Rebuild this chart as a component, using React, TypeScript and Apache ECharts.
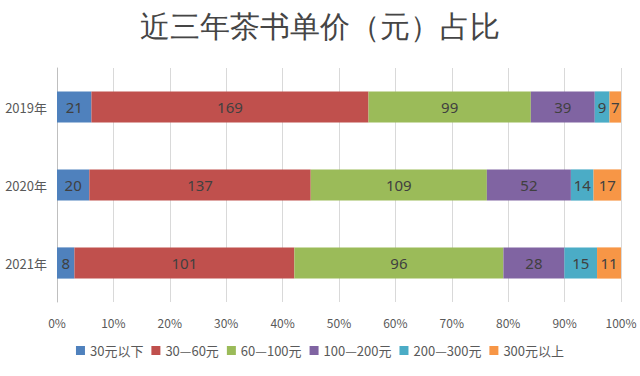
import React, { useEffect, useRef } from "react";
import * as echarts from "echarts";

const years = ["2019年", "2020年", "2021年"];
const seriesNames = ["30元以下", "30—60元", "60—100元", "100—200元", "200—300元", "300元以上"];
const below30 = [21, 20, 8];
const from30to60 = [169, 137, 101];
const from60to100 = [99, 109, 96];
const from100to200 = [39, 52, 28];
const from200to300 = [9, 14, 15];
const above300 = [7, 17, 11];
const colors = ["#4F81BD", "#C0504D", "#9BBB59", "#8064A2", "#4BACC6", "#F79646"];
const tickLabels = ["0%", "10%", "20%", "30%", "40%", "50%", "60%", "70%", "80%", "90%", "100%"];

export default function App() {
  const ref = useRef<HTMLDivElement>(null);
  useEffect(() => {
    if (!ref.current) return;
    const chart = echarts.init(ref.current, null, { renderer: "svg" });
    const all = [below30, from30to60, from60to100, from100to200, from200to300, above300];
    const totals = years.map((_, i) => all.reduce((s, arr) => s + arr[i], 0));
    const series = all.map((arr, k) => ({
      name: seriesNames[k],
      type: "bar",
      stack: "total",
      barWidth: "40%",
      itemStyle: { color: colors[k] },
      data: arr.map((v, i) => (v / totals[i]) * 100),
      label: {
        show: true,
        position: "inside",
        color: "#404040",
        fontSize: 15,
        fontFamily: "Noto Sans",
        formatter: (p: any) => String(arr[p.dataIndex]),
      },
    }));
    chart.setOption({
      animation: false,
      backgroundColor: "#ffffff",
      title: {
        text: "近三年茶书单价（元）占比",
        left: "center",
        top: 6,
        textStyle: { fontSize: 30, fontWeight: "normal", color: "#454545", fontFamily: "serif" },
      },
      grid: { left: 57, right: 19, top: 68, bottom: 74, containLabel: false },
      legend: {
        bottom: 14,
        left: "center",
        itemWidth: 9,
        itemHeight: 9,
        itemGap: 8,
        icon: "rect",
        textStyle: { fontSize: 13, color: "#595959", fontFamily: "Noto Sans CJK SC" },
        data: seriesNames,
      },
      xAxis: {
        type: "value",
        min: 0,
        max: 100,
        interval: 10,
        axisLine: { show: false },
        axisTick: { show: false },
        splitLine: { show: true, lineStyle: { color: "#d9d9d9", width: 1 } },
        axisLabel: {
          color: "#595959",
          fontSize: 12,
          margin: 14,
          fontFamily: "Noto Sans CJK SC",
          formatter: (v: number) => tickLabels[Math.round(v / 10)],
        },
      },
      yAxis: {
        type: "category",
        data: years,
        inverse: true,
        axisLine: { show: true, lineStyle: { color: "#bfbfbf" } },
        axisTick: { show: false },
        axisLabel: { color: "#595959", fontSize: 13, margin: 10, fontFamily: "Noto Sans CJK SC" },
      },
      series,
    });
    return () => chart.dispose();
  }, []);
  return <div ref={ref} style={{ width: 640, height: 376, position: "absolute", left: 0, top: 0 }} />;
}
